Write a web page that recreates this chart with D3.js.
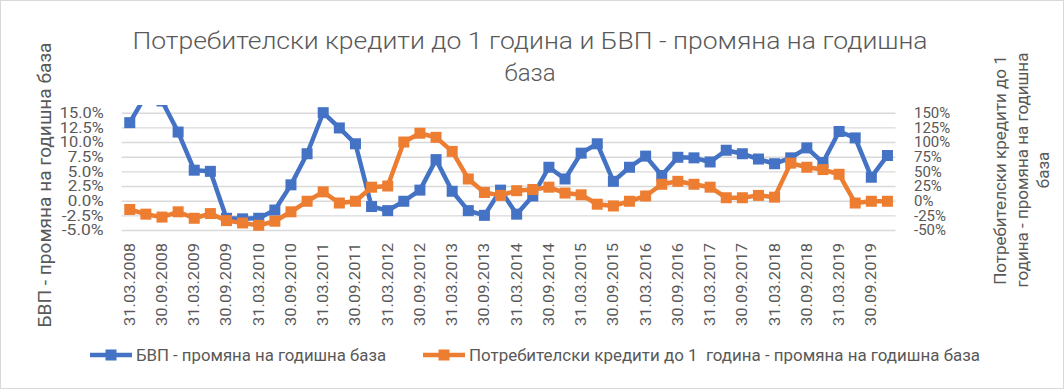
<!DOCTYPE html>
<html>
<head>
<meta charset="utf-8">
<script src="https://cdn.jsdelivr.net/npm/d3@7"></script>
<style>
  body { margin: 0; background: #fff; }
  text { font-family: Roboto, "Noto Sans", sans-serif; fill: #595959; }
</style>
</head>
<body>
<svg id="chart" width="1064" height="389"></svg>
<script>
const TITLE = ['Потребителски кредити до 1 година и БВП - промяна на годишна', 'база'];
const LEFT_TITLE = 'БВП - промяна на годишна база';
const RIGHT_TITLE = ['Потребителски кредити до 1', 'година - промяна на годишна', 'база'];
const SERIES_NAMES = ['БВП - промяна на годишна база', 'Потребителски кредити до 1  година - промяна на годишна база'];

const dates = [
  '31.03.2008', '30.06.2008', '30.09.2008', '31.12.2008',
  '31.03.2009', '30.06.2009', '30.09.2009', '31.12.2009',
  '31.03.2010', '30.06.2010', '30.09.2010', '31.12.2010',
  '31.03.2011', '30.06.2011', '30.09.2011', '31.12.2011',
  '31.03.2012', '30.06.2012', '30.09.2012', '31.12.2012',
  '31.03.2013', '30.06.2013', '30.09.2013', '31.12.2013',
  '31.03.2014', '30.06.2014', '30.09.2014', '31.12.2014',
  '31.03.2015', '30.06.2015', '30.09.2015', '31.12.2015',
  '31.03.2016', '30.06.2016', '30.09.2016', '31.12.2016',
  '31.03.2017', '30.06.2017', '30.09.2017', '31.12.2017',
  '31.03.2018', '30.06.2018', '30.09.2018', '31.12.2018',
  '31.03.2019', '30.06.2019', '30.09.2019', '31.12.2019',
];

// GDP, year-on-year change (left axis)
const gdp = [
  0.133, 0.180, 0.170, 0.117,
  0.052, 0.050, -0.030, -0.031,
  -0.030, -0.016, 0.027, 0.080,
  0.150, 0.124, 0.097, -0.010,
  -0.017, -0.001, 0.018, 0.070,
  0.016, -0.017, -0.025, 0.018,
  -0.023, 0.008, 0.057, 0.037,
  0.081, 0.097, 0.033, 0.057,
  0.076, 0.043, 0.074, 0.073,
  0.066, 0.086, 0.080, 0.071,
  0.063, 0.073, 0.090, 0.065,
  0.118, 0.107, 0.040, 0.077,
];

// Consumer credit up to 1 year, year-on-year change (right axis)
const credit = [
  -0.15, -0.23, -0.28, -0.19,
  -0.30, -0.22, -0.34, -0.38,
  -0.42, -0.35, -0.19, -0.01,
  0.15, -0.04, -0.01, 0.23,
  0.25, 1.00, 1.15, 1.08,
  0.84, 0.37, 0.14, 0.09,
  0.17, 0.19, 0.23, 0.13,
  0.10, -0.06, -0.09, -0.01,
  0.08, 0.28, 0.33, 0.28,
  0.23, 0.05, 0.05, 0.09,
  0.06, 0.64, 0.57, 0.53,
  0.45, -0.04, -0.01, -0.01,
];

const leftTicks = [-0.05, -0.025, 0, 0.025, 0.05, 0.075, 0.1, 0.125, 0.15];
const rightTicks = [-0.5, -0.25, 0, 0.25, 0.5, 0.75, 1, 1.25, 1.5];

const BLUE = '#4472c4';
const ORANGE = '#ed7d31';
const GRID = '#d9d9d9';

const PLOT = { left: 121.7, right: 895.5, top: 112.7, bottom: 230 };

const locale = d3.formatLocale({ decimal: '.', thousands: ',', grouping: [3], currency: ['', ''], minus: '-' });

const svg = d3.select('#chart');

svg.append('rect')
  .attr('x', 0.5).attr('y', 0.5)
  .attr('width', 1063).attr('height', 388)
  .attr('fill', '#fff')
  .attr('stroke', GRID);

const x = d3.scaleBand()
  .domain(dates)
  .range([PLOT.left, PLOT.right]);
const yLeft = d3.scaleLinear()
  .domain([-0.05, 0.15])
  .range([PLOT.bottom, PLOT.top]);
const yRight = d3.scaleLinear()
  .domain([-0.5, 1.5])
  .range([PLOT.bottom, PLOT.top]);

// left axis with gridlines
const leftAxis = svg.append('g')
  .attr('transform', `translate(${PLOT.left},0)`)
  .call(d3.axisLeft(yLeft)
    .tickValues(leftTicks)
    .tickFormat(locale.format('.1%'))
    .tickSize(-(PLOT.right - PLOT.left))
    .tickPadding(18));
leftAxis.select('.domain').remove();
leftAxis.selectAll('line').attr('stroke', GRID).attr('stroke-width', 1.4);
// labels are a bit wider in the reference than Roboto gives
leftAxis.selectAll('text')
  .attr('font-size', 15)
  .attr('fill', '#595959')
  .attr('textLength', d => (d < 0 ? 42 : d >= 0.1 ? 44 : 36))
  .attr('lengthAdjust', 'spacingAndGlyphs');

const rightAxis = svg.append('g')
  .attr('transform', `translate(${PLOT.right},0)`)
  .call(d3.axisRight(yRight)
    .tickValues(rightTicks)
    .tickFormat(locale.format('.0%'))
    .tickSize(0)
    .tickPadding(18.5));
rightAxis.select('.domain').remove();
rightAxis.selectAll('text').attr('font-size', 15).attr('fill', '#595959');

const bottomAxis = svg.append('g')
  .attr('transform', `translate(0,${PLOT.bottom})`)
  .call(d3.axisBottom(x)
    .tickValues(dates.filter((d, i) => i % 2 === 0))
    .tickSize(0));
bottomAxis.select('.domain').remove();
bottomAxis.selectAll('text')
  .attr('font-size', 15.5)
  .attr('fill', '#595959')
  .attr('text-anchor', 'end')
  .attr('dy', null)
  .attr('y', 0)
  .attr('dominant-baseline', 'central')
  .attr('textLength', 83)
  .attr('lengthAdjust', 'spacingAndGlyphs')
  .attr('transform', 'translate(0,13) rotate(-90)');

// clip for the series (Excel lets marks spill a little above the top gridline)
svg.append('clipPath').attr('id', 'plot-clip')
  .append('rect')
  .attr('x', PLOT.left - 8).attr('y', 105)
  .attr('width', PLOT.right - PLOT.left + 16).attr('height', 140);

const cx = d => x(d) + x.bandwidth() / 2;

const seriesList = [
  { values: gdp, y: yLeft, color: BLUE },
  { values: credit, y: yRight, color: ORANGE },
];

const plot = svg.append('g').attr('clip-path', 'url(#plot-clip)');

seriesList.forEach(s => {
  const points = dates.map((d, i) => ({ date: d, value: s.values[i] }));
  const line = d3.line()
    .x(p => cx(p.date))
    .y(p => s.y(p.value));

  plot.append('path')
    .datum(points)
    .attr('fill', 'none')
    .attr('stroke', s.color)
    .attr('stroke-width', 4.5)
    .attr('stroke-linejoin', 'round')
    .attr('d', line);

  plot.selectAll(null)
    .data(points)
    .enter()
    .append('rect')
    .attr('x', p => cx(p.date) - 5.5)
    .attr('y', p => s.y(p.value) - 5.5)
    .attr('width', 11)
    .attr('height', 11)
    .attr('fill', s.color);
});

// titles
svg.append('text')
  .attr('x', 530).attr('y', 49)
  .attr('text-anchor', 'middle')
  .attr('font-size', 24)
  .attr('font-weight', 300)
  .attr('textLength', 795)
  .attr('lengthAdjust', 'spacingAndGlyphs')
  .text(TITLE[0]);
svg.append('text')
  .attr('x', 530).attr('y', 81)
  .attr('text-anchor', 'middle')
  .attr('font-size', 24)
  .attr('font-weight', 300)
  .text(TITLE[1]);

svg.append('text')
  .attr('transform', 'translate(45,185) rotate(-90)')
  .attr('text-anchor', 'middle')
  .attr('dominant-baseline', 'central')
  .attr('font-size', 17.5)
  .attr('textLength', 285)
  .attr('lengthAdjust', 'spacingAndGlyphs')
  .text(LEFT_TITLE);

svg.append('g')
  .attr('transform', 'translate(1000,170) rotate(-90)')
  .selectAll('text')
  .data(RIGHT_TITLE)
  .enter()
  .append('text')
  .attr('x', 0)
  .attr('y', (d, i) => i * 21.5)
  .attr('text-anchor', 'middle')
  .attr('dominant-baseline', 'central')
  .attr('font-size', 17)
  .text(d => d);

// legend
const legendItems = [
  { name: SERIES_NAMES[0], color: BLUE, x: 90, width: 250 },
  { name: SERIES_NAMES[1], color: ORANGE, x: 423, width: 511 },
];
const legend = svg.append('g').attr('transform', 'translate(0,355)');
const item = legend.selectAll('.item')
  .data(legendItems)
  .enter()
  .append('g')
  .attr('class', 'item')
  .attr('transform', d => `translate(${d.x},0)`);
item.append('line')
  .attr('x1', 0).attr('x2', 42)
  .attr('stroke', d => d.color)
  .attr('stroke-width', 4.5);
item.append('rect')
  .attr('x', 15.5).attr('y', -5.5)
  .attr('width', 11).attr('height', 11)
  .attr('fill', d => d.color);
item.append('text')
  .attr('x', 46)
  .attr('dominant-baseline', 'central')
  .attr('font-size', 16)
  .attr('textLength', d => d.width)
  .attr('lengthAdjust', 'spacingAndGlyphs')
  .attr('xml:space', 'preserve')
  .text(d => d.name);
</script>
</body>
</html>
